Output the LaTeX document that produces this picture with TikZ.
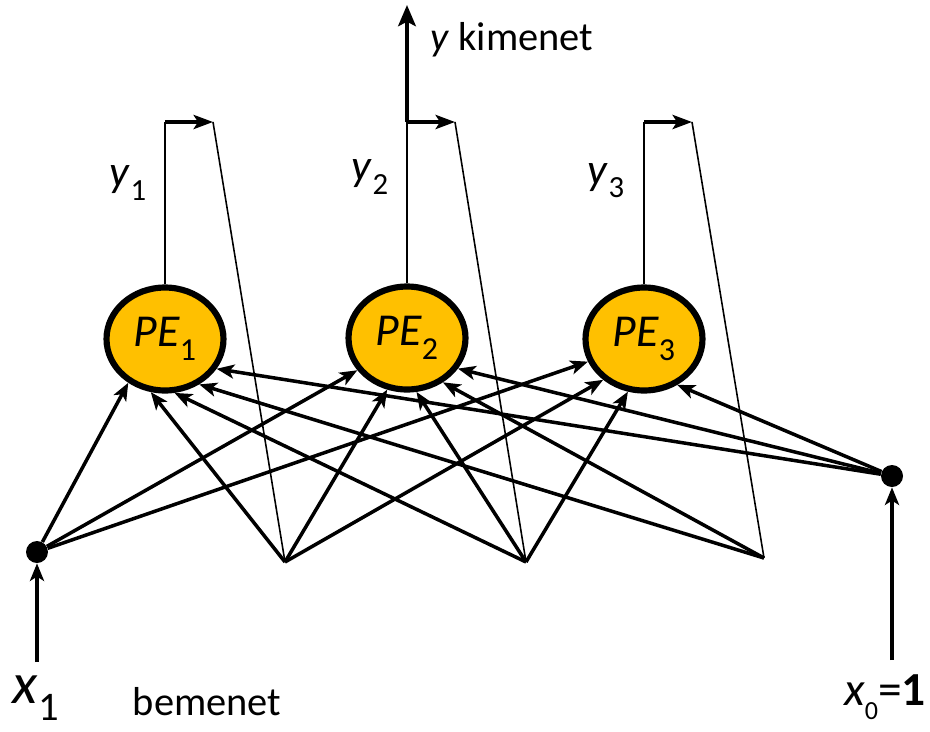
\documentclass[tikz,border=0pt]{standalone}
\usepackage{fontspec}
\setmainfont{Carlito}
\usepackage{graphicx}
\usetikzlibrary{arrows.meta,shapes.geometric}

\definecolor{pegold}{RGB}{255,192,0}
\newcommand{\lowsub}[2][0.7]{\raisebox{-0.3em}{\scalebox{#1}{#2}}}

\tikzset{
    pe/.style={ellipse, draw, line width=3.5pt, fill=pegold, minimum width=2.34cm,
        minimum height=2.06cm, inner sep=0pt, font=\fontsize{26}{30}\selectfont\itshape},
    dot/.style={circle, fill=black, minimum size=0.44cm, inner sep=0pt},
    wire/.style={line width=2pt, -{Stealth[length=10pt,width=8pt,inset=2.5pt]}},
    stem/.style={line width=1.3pt},
    outarrow/.style={line width=2.2pt, -{Stealth[length=11pt,width=8pt,inset=2.5pt]}},
    bigarrow/.style={line width=2.6pt, -{Stealth[length=12pt,width=10pt,inset=2.5pt]}},
    fb/.style={line width=0.9pt},
    lbl/.style={inner sep=0pt, font=\fontsize{23}{27}\selectfont},
}

\begin{document}
\begin{tikzpicture}[x=0.02cm, y=-0.02cm]
    \useasboundingbox (0,0) rectangle (930,731);

    % Processing elements
    \node[pe] (pe1) at (165,339) {PE\lowsub{\upshape 1}};
    \node[pe] (pe2) at (407,338) {PE\lowsub{\upshape 2}};
    \node[pe] (pe3) at (644,339) {PE\lowsub{\upshape 3}};

    % Inputs
    \node[dot] (x1) at (37,552) {};
    \node[dot] (x0) at (892,476) {};
    \coordinate (x1in) at (37,662);
    \coordinate (x0in) at (892,660);
    \draw[wire] (x1in) -- (x1);
    \draw[wire] (x0in) -- (x0);

    % Feedback points
    \coordinate (b1) at (285,562);
    \coordinate (b2) at (526,562);
    \coordinate (b3) at (764,558);

    % Outputs and feedback
    \foreach \i/\b in {1/b1,2/b2,3/b3} {
        \path (pe\i.north |- 0,122) coordinate (c\i) ++(48,0) coordinate (t\i);
        \draw[stem] (pe\i.north) -- (c\i);
        \draw[outarrow] (c\i) -- (t\i);
        \draw[fb] (t\i) -- (\b);
    }
    \coordinate (yout) at (407,5);
    \draw[bigarrow] (c2) -- (yout);

    % Weighted connections
    \draw[wire] (x1) -- (pe1.230);
    \draw[wire] (x1) -- (pe2.213);
    \draw[wire] (x1) -- (pe3.202);
    \draw[wire] (b1) -- (pe1.255);
    \draw[wire] (b1) -- (pe2.249);
    \draw[wire] (b1) -- (pe3.225);
    \draw[wire] (b2) -- (pe1.280);
    \draw[wire] (b2) -- (pe2.280);
    \draw[wire] (b2) -- (pe3.253);
    \draw[wire] (b3) -- (pe1.307);
    \draw[wire] (b3) -- (pe2.309);
    \draw[wire] (x0) -- (pe1.330);
    \draw[wire] (x0) -- (pe2.329);
    \draw[wire] (x0) -- (pe3.306);

    % Labels
    \node[lbl, font=\fontsize{25}{29}\selectfont] (y1) at (128,183) {\textit{y}\lowsub{1}};
    \node[lbl, font=\fontsize{25}{29}\selectfont] (y2) at (370,177) {\textit{y}\lowsub{2}};
    \node[lbl, font=\fontsize{25}{29}\selectfont] (y3) at (606,181) {\textit{y}\lowsub{3}};
    \node[lbl, anchor=base west] (ykim) at (430,50) {\textit{y} kimenet};
    \node[lbl] (bem) at (207,702) {bemenet};
    \node[lbl, font=\fontsize{33}{38}\selectfont] (x1lbl) at (36,698) {\textit{x}\lowsub{1}};
    \node[lbl, font=\fontsize{27}{31}\selectfont] (x0lbl) at (885,697) {\textit{x}\lowsub[0.55]{0}=\textbf{1}};
\end{tikzpicture}
\end{document}
